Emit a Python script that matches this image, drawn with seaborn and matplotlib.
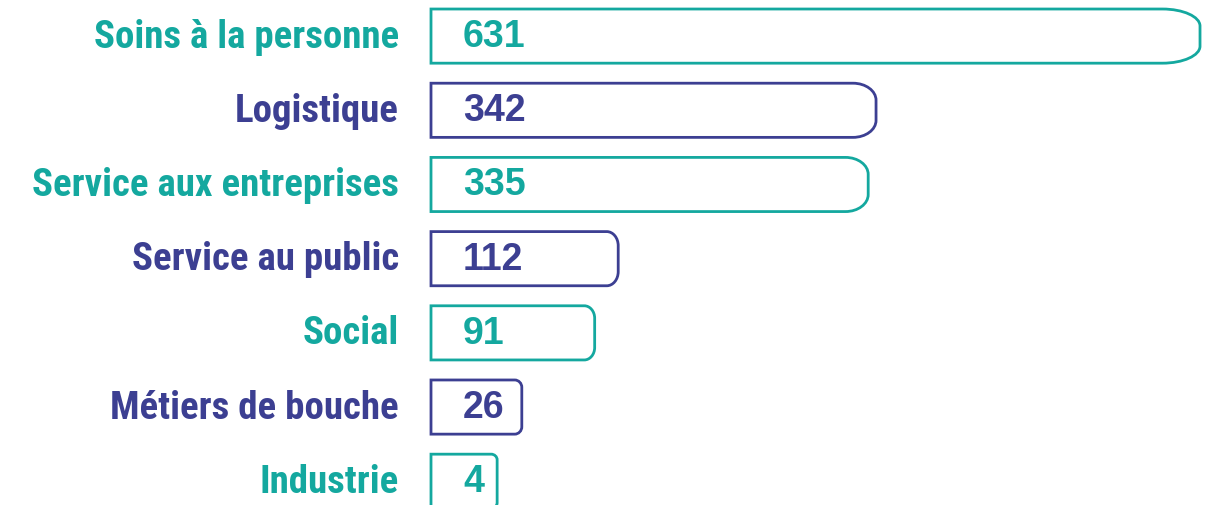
import matplotlib
matplotlib.use('Agg')
import matplotlib.pyplot as plt
import seaborn as sns
import pandas as pd
from matplotlib.path import Path
from matplotlib.patches import PathPatch

# --- data ---
categories = ['Soins à la personne', 'Logistique', 'Service aux entreprises',
              'Service au public', 'Social', 'Métiers de bouche', 'Industrie']
values = [631, 342, 335, 112, 91, 26, 4]

TEAL = '#14a89f'
NAVY = '#3c3f92'
colors = [TEAL, NAVY, TEAL, NAVY, TEAL, NAVY, TEAL]

BAR_START = -55   # bars start a bit left of zero, like the original
K = 0.5523        # bezier constant for quarter ellipse

sns.set_theme(style='white')
plt.rcParams['font.family'] = ['Roboto Condensed', 'Liberation Sans', 'DejaVu Sans']

fig = plt.figure(figsize=(12.11, 5.06), dpi=100)
ax = fig.add_axes([431 / 1211, 0, 1 - 431 / 1211, 1])

df = pd.DataFrame({'cat': categories, 'val': values})
sns.barplot(data=df, x='val', y='cat', orient='h', width=0.73, ax=ax)

ax.set_xlim(BAR_START, 640.8)
ax.set_ylim(6.32, -0.5)

# pixel scale of data units
p0 = ax.transData.transform((0, 0))
p1 = ax.transData.transform((1, 1))
sx = abs(p1[0] - p0[0])
sy = abs(p1[1] - p0[1])

# swap the plain bars for outlined bars with rounded right ends
bars = list(ax.patches)
for bar, col in zip(bars, colors):
    y0 = bar.get_y()
    h = bar.get_height()
    x1 = bar.get_width()
    bar.remove()
    wpx = (x1 - BAR_START) * sx
    rx = (0.045 * wpx + 3) / sx
    ry = min(17, 0.07 * wpx + 1) / sy
    yt, yb = y0, y0 + h
    verts = [(BAR_START, yt), (x1 - rx, yt),
             (x1 - rx + K * rx, yt), (x1, yt + ry - K * ry), (x1, yt + ry),
             (x1, yb - ry),
             (x1, yb - ry + K * ry), (x1 - rx + K * rx, yb), (x1 - rx, yb),
             (BAR_START, yb), (BAR_START, yt)]
    codes = [Path.MOVETO, Path.LINETO,
             Path.CURVE4, Path.CURVE4, Path.CURVE4,
             Path.LINETO,
             Path.CURVE4, Path.CURVE4, Path.CURVE4,
             Path.LINETO, Path.CLOSEPOLY]
    ax.add_patch(PathPatch(Path(verts, codes), facecolor='white',
                           edgecolor=col, lw=2.0, joinstyle='miter',
                           clip_on=False))

# value labels inside the bars
for i, (v, col) in enumerate(zip(values, colors)):
    ax.annotate(str(v), xy=(BAR_START, i), xytext=(23, 0),
                textcoords='offset points', ha='left', va='center',
                fontsize=27, fontweight='bold', color=col,
                family=['Liberation Sans', 'DejaVu Sans'])

ax.set_xticks([])
ax.set_xlabel('')
ax.set_ylabel('')
ax.tick_params(axis='y', length=0, pad=23, labelsize=28)
for lab, col in zip(ax.get_yticklabels(), colors):
    lab.set_color(col)
    lab.set_fontweight('bold')
    lab.set_verticalalignment('center')
sns.despine(ax=ax, left=True, bottom=True)

fig.savefig('out.png', dpi=100)
